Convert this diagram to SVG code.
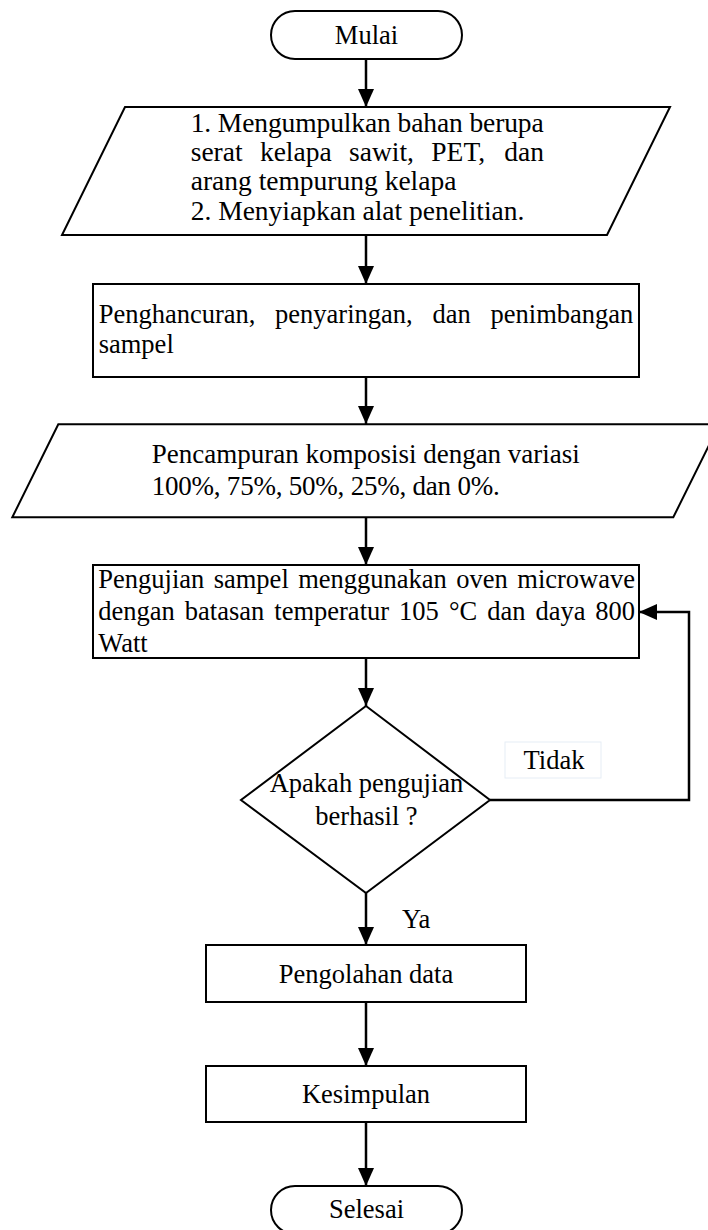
<svg xmlns="http://www.w3.org/2000/svg" width="708" height="1230" viewBox="0 0 708 1230">
<style>
.shape{fill:#fff;stroke:#000;stroke-width:2}
.conn{fill:none;stroke:#000;stroke-width:2.5}
text{font-family:"Liberation Serif","Times New Roman",serif;font-size:26.5px;fill:#000}
.c{text-anchor:middle}
.big{font-size:27.5px}
.mid{font-size:27px}
</style>
<defs>
<marker id="arr" markerUnits="userSpaceOnUse" markerWidth="18" markerHeight="16" refX="18" refY="8" orient="auto">
<path d="M0,0 L18,8 L0,16 z" fill="#000"/>
</marker>
</defs>
<rect width="708" height="1230" fill="#fff"/>
<g id="connectors">
<line class="conn" x1="366" y1="59" x2="366" y2="107" marker-end="url(#arr)"/>
<line class="conn" x1="366" y1="235" x2="366" y2="284" marker-end="url(#arr)"/>
<line class="conn" x1="366" y1="377" x2="366" y2="424" marker-end="url(#arr)"/>
<line class="conn" x1="366" y1="517" x2="366" y2="565" marker-end="url(#arr)"/>
<line class="conn" x1="366" y1="658" x2="366" y2="706" marker-end="url(#arr)"/>
<line class="conn" x1="366" y1="893" x2="366" y2="945" marker-end="url(#arr)"/>
<line class="conn" x1="366" y1="1002" x2="366" y2="1066" marker-end="url(#arr)"/>
<line class="conn" x1="366" y1="1122" x2="366" y2="1186" marker-end="url(#arr)"/>
<polyline class="conn" points="490,800 689,800 689,612 639,612" marker-end="url(#arr)"/>
<text x="402" y="928">Ya</text>
<g id="label-tidak">
<rect x="505" y="742" width="96" height="36" fill="#fff" stroke="#e6edf5" stroke-width="1"/>
<text x="554" y="769" class="c">Tidak</text>
</g>
</g>
<g id="mulai">
<rect class="shape" x="271" y="11" width="191" height="48" rx="24" ry="24"/>
<text x="366.5" y="44" class="c">Mulai</text>
</g>
<g id="input1">
<polygon class="shape" points="125,107 670,107 607,235 62,235"/>
<text class="big" x="190.7" y="131.7" textLength="353" lengthAdjust="spacing">1. Mengumpulkan bahan berupa</text>
<text class="big" y="161"><tspan x="190.7">serat</tspan><tspan x="259.9">kelapa</tspan><tspan x="349">sawit,</tspan><tspan x="431.3">PET,</tspan><tspan x="544" text-anchor="end">dan</tspan></text>
<text class="big" x="190.7" y="190.3">arang tempurung kelapa</text>
<text class="big" x="190.7" y="219.6">2. Menyiapkan alat penelitian.</text>
</g>
<g id="proses1">
<rect class="shape" x="93" y="284" width="546" height="93"/>
<text y="323.3"><tspan x="98.7">Penghancuran,</tspan><tspan x="275.1">penyaringan,</tspan><tspan x="432.4">dan</tspan><tspan x="633.3" text-anchor="end">penimbangan</tspan></text>
<text x="98.7" y="353">sampel</text>
</g>
<g id="input2">
<polygon class="shape" points="58.3,424.3 719.3,424.3 673.3,517.3 12.3,517.3"/>
<text class="mid" x="151.7" y="463.3">Pencampuran komposisi dengan variasi</text>
<text class="mid" x="151.7" y="495" textLength="348" lengthAdjust="spacing">100%, 75%, 50%, 25%, dan 0%.</text>
</g>
<g id="proses2">
<rect class="shape" x="93" y="565" width="546" height="93"/>
<text y="588.3"><tspan x="98.3">Pengujian</tspan><tspan x="213.7">sampel</tspan><tspan x="298.2">menggunakan</tspan><tspan x="456.3">oven</tspan><tspan x="635" text-anchor="end">microwave</tspan></text>
<text y="620"><tspan x="98.3">dengan</tspan><tspan x="184.8">batasan</tspan><tspan x="274.3">temperatur</tspan><tspan x="399.1">105</tspan><tspan x="448.9">°C</tspan><tspan x="487.2">dan</tspan><tspan x="535.5">daya</tspan><tspan x="635" text-anchor="end">800</tspan></text>
<text x="98.3" y="651.5">Watt</text>
</g>
<g id="keputusan">
<polygon class="shape" points="366,706 490,800 366,893 241,800"/>
<text x="366.5" y="791.7" class="c">Apakah pengujian</text>
<text x="366.5" y="825" class="c">berhasil ?</text>
</g>
<g id="pengolahan">
<rect class="shape" x="206" y="945" width="320" height="57"/>
<text x="366" y="983" class="c">Pengolahan data</text>
</g>
<g id="kesimpulan">
<rect class="shape" x="206" y="1066" width="320" height="56"/>
<text x="366" y="1103" class="c">Kesimpulan</text>
</g>
<g id="selesai">
<rect class="shape" x="271" y="1186" width="191" height="48" rx="24" ry="24"/>
<text x="366.5" y="1218" class="c">Selesai</text>
</g>
</svg>
